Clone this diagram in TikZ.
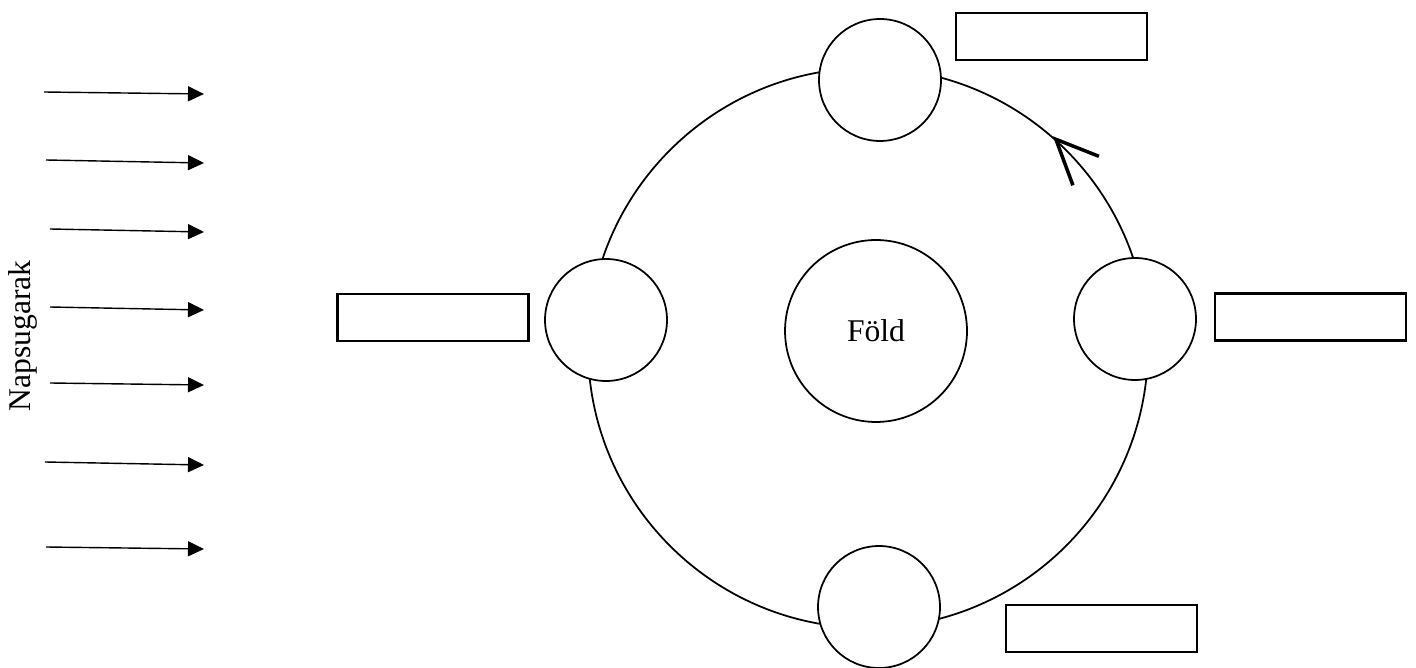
\documentclass[tikz,border=0pt]{standalone}
\usepackage{fontspec}
\setmainfont{Liberation Serif}
\usepackage{tikz}
\usetikzlibrary{arrows.meta,positioning}
\tikzset{
    ray/.style={-{Triangle[length=3.2mm, width=3mm]}, line width=0.8pt},
    orbitline/.style={draw, circle, line width=1pt, minimum size=11.2cm, inner sep=0pt},
    moon/.style={draw, circle, fill=white, line width=1pt, minimum size=2.44cm, inner sep=0pt},
    planet/.style={draw, circle, fill=white, line width=1pt, minimum size=3.64cm, inner sep=0pt},
    answerbox/.style={draw, line width=1.3pt, minimum width=3.82cm, minimum height=0.94cm, inner sep=0pt},
    chevron/.style={line width=2pt}
}

\begin{document}
\begin{tikzpicture}[x=0.02cm, y=-0.02cm, font=\fontsize{18}{21}\selectfont]
    \useasboundingbox (0,0) rectangle (1416,668);

    % napsugarak
    \node[rotate=90] (label) at (23,336) {Napsugarak};
    \foreach \xs/\ys/\ye [count=\i] in {44/92/94, 46/160/163, 50/229/232, 50/307/310, 50/383/385, 45/462/465, 46/547/549}{
        \coordinate (s\i) at (\xs,\ys);
        \coordinate (e\i) at (204,\ye);
        \draw[ray] (s\i) -- (e\i);
    }

    % palya es holdak
    \node[orbitline] (orbit) at (868,348) {};
    \node[planet] (fold) at (876,331) {Föld};
    \node[moon] (top) at (880,80) {};
    \node[moon] (left) at (606,320) {};
    \node[moon] (right) at (1135,319) {};
    \node[moon] (bottom) at (879,607) {};

    \coordinate (tip) at (orbit.48.2);
    \draw[chevron] (tip) ++(43,17) -- (tip) -- ++(17,46);

    % kitoltendo dobozok
    \node[answerbox] (boxtop) at (1051.5,36.5) {};
    \node[answerbox] (boxleft) at (433,317.5) {};
    \node[answerbox] (boxright) at (1310.5,317) {};
    \node[answerbox] (boxbottom) at (1101.5,628.5) {};
\end{tikzpicture}
\end{document}
